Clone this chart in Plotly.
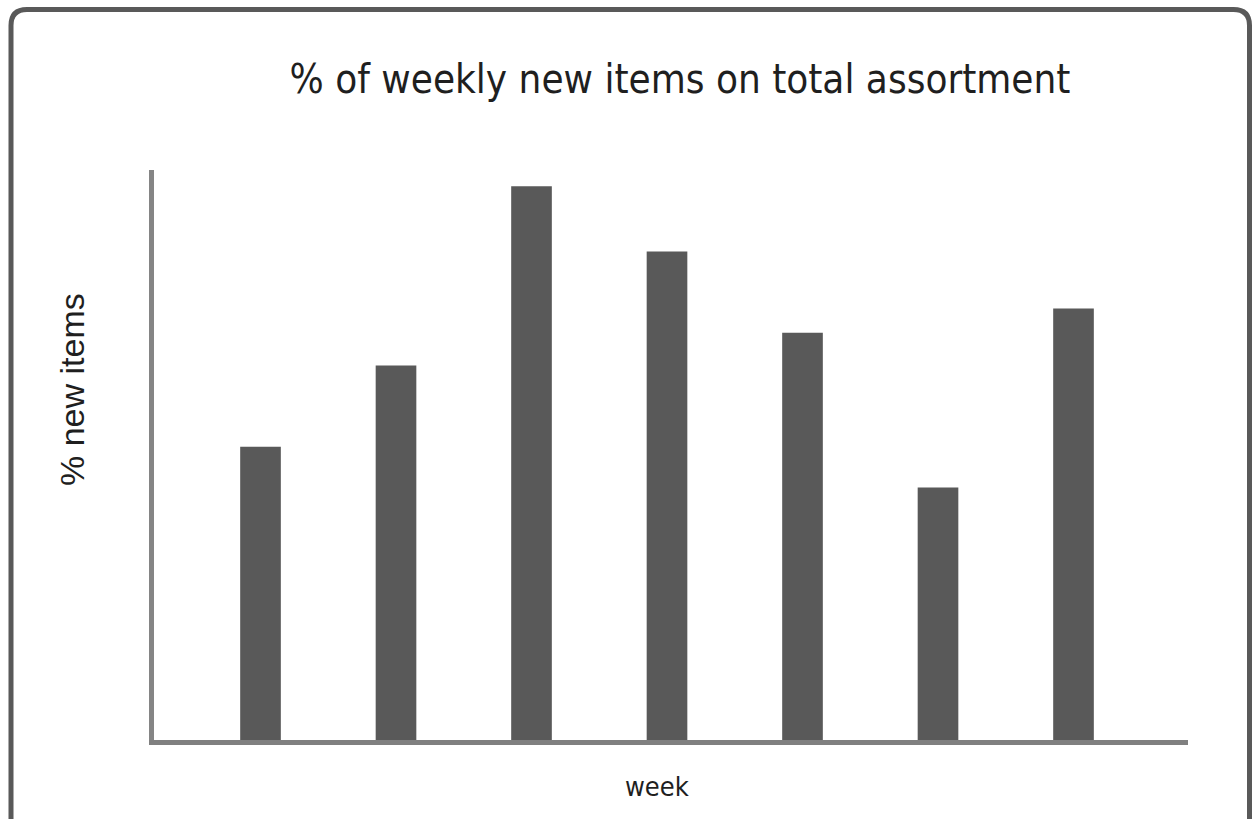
import plotly.graph_objects as go

weeks = ["W1", "W2", "W3", "W4", "W5", "W6", "W7"]
pct_new_items = [3.6, 4.6, 6.8, 6.0, 5.0, 3.1, 5.3]

title_text = "% of weekly new items on total assortment"
x_title = "week"
y_title = "% new items"

W, H = 1254, 819
L, R, T, B = 154, 66, 170, 79
pw, ph = W - L - R, H - T - B

def px_x(x):
    return (x - L) / pw

def px_y(y):
    return (H - B - y) / ph

fig = go.Figure()
fig.add_trace(go.Bar(x=weeks, y=pct_new_items, marker=dict(color="#595959", line=dict(width=0))))

x0, x1, y0, y1, r = 11, 1249.5, 9.5, 840, 16
path = (
    f"M {px_x(x0)},{px_y(y1)} L {px_x(x0)},{px_y(y0 + r)} "
    f"Q {px_x(x0)},{px_y(y0)} {px_x(x0 + r)},{px_y(y0)} "
    f"L {px_x(x1 - r)},{px_y(y0)} "
    f"Q {px_x(x1)},{px_y(y0)} {px_x(x1)},{px_y(y0 + r)} "
    f"L {px_x(x1)},{px_y(y1)}"
)
fig.add_shape(type="path", path=path, xref="paper", yref="paper",
              line=dict(color="#595959", width=5), layer="above")

narrow = "DejaVu Sans Condensed"

fig.add_annotation(text=x_title, xref="paper", yref="paper", x=px_x(657), y=px_y(786),
                   xanchor="center", yanchor="middle", showarrow=False,
                   font=dict(family=narrow, size=27, color="#1f1f1f"))
fig.add_annotation(text=y_title, xref="paper", yref="paper", x=px_x(72), y=px_y(390),
                   xanchor="center", yanchor="middle", showarrow=False, textangle=-90,
                   font=dict(family="Liberation Sans", size=34, color="#1f1f1f"))

fig.update_layout(
    width=W, height=H,
    margin=dict(l=L, r=R, t=T, b=B),
    paper_bgcolor="white", plot_bgcolor="white",
    bargap=0.7,
    showlegend=False,
    title=dict(text=title_text, x=px_x(680), xref="paper", xanchor="center",
               y=1 - 79 / H, yanchor="middle",
               font=dict(family=narrow, size=40, color="#1f1f1f")),
    xaxis=dict(type="category", range=[-0.786, 6.845], showticklabels=False, ticks="",
               showgrid=False, zeroline=False, showline=True, linecolor="#808080", linewidth=5),
    yaxis=dict(range=[0, 7], showticklabels=False, ticks="", showgrid=False, zeroline=False,
               showline=True, linecolor="#858585", linewidth=5),
)

fig.write_html("out.html", config={"displayModeBar": False},
               post_script="document.body.style.margin='0';")
